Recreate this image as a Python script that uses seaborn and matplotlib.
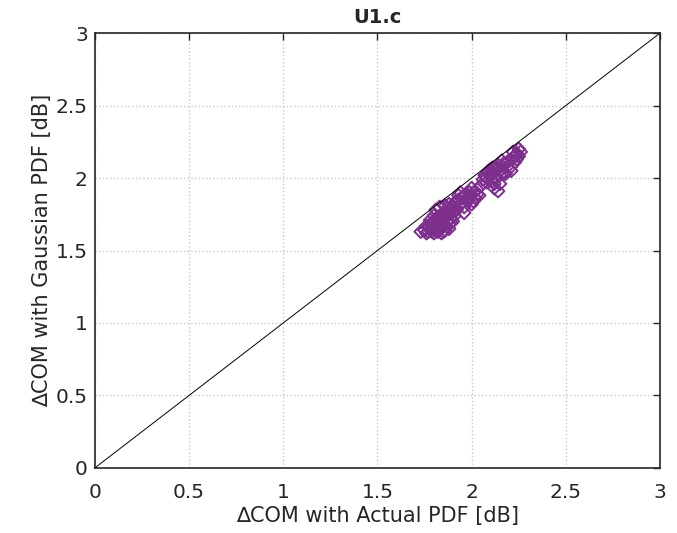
import numpy as np
import pandas as pd
import seaborn as sns
import matplotlib.pyplot as plt

# values (dB)
actual_pdf = [1.73, 1.75, 1.76, 1.77, 1.78, 1.78, 1.79, 1.80, 1.80, 1.81,
              1.81, 1.82, 1.82, 1.83, 1.83, 1.84, 1.84, 1.85, 1.85, 1.86,
              1.86, 1.87, 1.87, 1.88, 1.88, 1.89, 1.90, 1.90, 1.91, 1.92,
              1.92, 1.93, 1.94, 1.94, 1.95, 1.96, 1.96, 1.97, 1.98, 1.99,
              2.00, 2.01, 2.02, 2.03, 2.04, 2.05, 2.06, 2.07, 2.08, 2.09,
              2.10, 2.10, 2.11, 2.11, 2.12, 2.12, 2.13, 2.13, 2.14, 2.14,
              2.15, 2.15, 2.16, 2.17, 2.18, 2.19, 2.20, 2.21, 2.22, 2.23,
              2.24, 2.24, 2.25, 2.25, 2.26, 1.84, 1.90, 1.83, 1.86,
              1.76, 1.77, 1.79, 1.79, 1.80, 1.81, 1.82, 1.83, 1.84, 1.85,
              1.86, 1.87, 1.88, 1.89, 1.78, 1.80, 1.82, 1.84, 1.87, 1.89,
              1.91, 1.93, 1.95, 1.97, 1.99, 2.01, 2.03, 1.92, 1.96, 2.00,
              2.08, 2.09, 2.11, 2.13, 2.15, 2.17, 2.19, 2.21, 2.23, 2.12,
              2.16, 2.22, 1.81, 1.85, 1.88]
gaussian_pdf = [1.63, 1.64, 1.62, 1.66, 1.65, 1.68, 1.63, 1.67, 1.70, 1.64,
                1.72, 1.66, 1.69, 1.65, 1.74, 1.68, 1.71, 1.63, 1.76, 1.67,
                1.73, 1.70, 1.79, 1.65, 1.75, 1.72, 1.81, 1.77, 1.74, 1.84,
                1.79, 1.88, 1.82, 1.90, 1.86, 1.80, 1.76, 1.89, 1.84, 1.87,
                1.82, 1.90, 1.86, 1.92, 1.88, 1.95, 1.99, 2.02, 1.97, 2.04,
                2.01, 2.06, 1.98, 2.03, 2.07, 1.93, 2.00, 2.05, 1.91, 2.09,
                2.02, 1.96, 2.06, 2.10, 2.03, 2.08, 2.12, 2.05, 2.14, 2.11,
                2.17, 2.13, 2.20, 2.15, 2.18, 1.62, 1.70, 1.80, 1.81,
                1.67, 1.63, 1.69, 1.65, 1.62, 1.68, 1.72, 1.67, 1.73, 1.69,
                1.64, 1.74, 1.68, 1.78, 1.71, 1.74, 1.63, 1.66, 1.76, 1.69,
                1.83, 1.85, 1.83, 1.85, 1.90, 1.84, 1.89, 1.78, 1.88, 1.93,
                2.00, 2.05, 2.07, 2.08, 2.05, 2.03, 2.11, 2.08, 2.15, 1.96,
                2.12, 2.18, 1.78, 1.72, 1.82]
ticks = [0, 0.5, 1, 1.5, 2, 2.5, 3]
tick_labels = ["0", "0.5", "1", "1.5", "2", "2.5", "3"]

df = pd.DataFrame({"actual": actual_pdf, "gaussian": gaussian_pdf})

sns.set_style("white")
plt.rcParams["font.family"] = ["DejaVu Sans"]

fig = plt.figure(figsize=(6.77, 5.33), dpi=100)
ax = fig.add_axes([0.140, 0.122, 0.835, 0.816])

sns.lineplot(x=[0, 3], y=[0, 3], color="black", linewidth=0.7, ax=ax)
sns.scatterplot(data=df, x="actual", y="gaussian", marker="D", s=42,
                facecolors="none", edgecolor="#7E2F8E", linewidth=1.4, ax=ax)

ax.set_xlim(0, 3)
ax.set_ylim(0, 3)
ax.set_xticks(ticks)
ax.set_xticklabels(tick_labels)
ax.set_yticks(ticks)
ax.set_yticklabels(tick_labels)
ax.grid(True, linestyle=":", color="#c8c8c8", linewidth=1.0)
ax.tick_params(direction="in", length=5, width=1, top=True, right=True,
               labelsize=14.5, colors="#262626")
ax.tick_params(axis="x", pad=11)
ax.tick_params(axis="y", pad=5)
for sp in ax.spines.values():
    sp.set_linewidth(1.2)
    sp.set_color("#262626")

ax.set_xlabel("\u2206COM with Actual PDF [dB]", fontsize=15, color="#262626", labelpad=3)
ax.set_ylabel("\u2206COM with Gaussian PDF [dB]", fontsize=15, color="#262626", labelpad=3)
ax.set_title("U1.c", fontsize=14, fontweight="bold", color="#262626", pad=7)

fig.savefig("out.png", dpi=100)
